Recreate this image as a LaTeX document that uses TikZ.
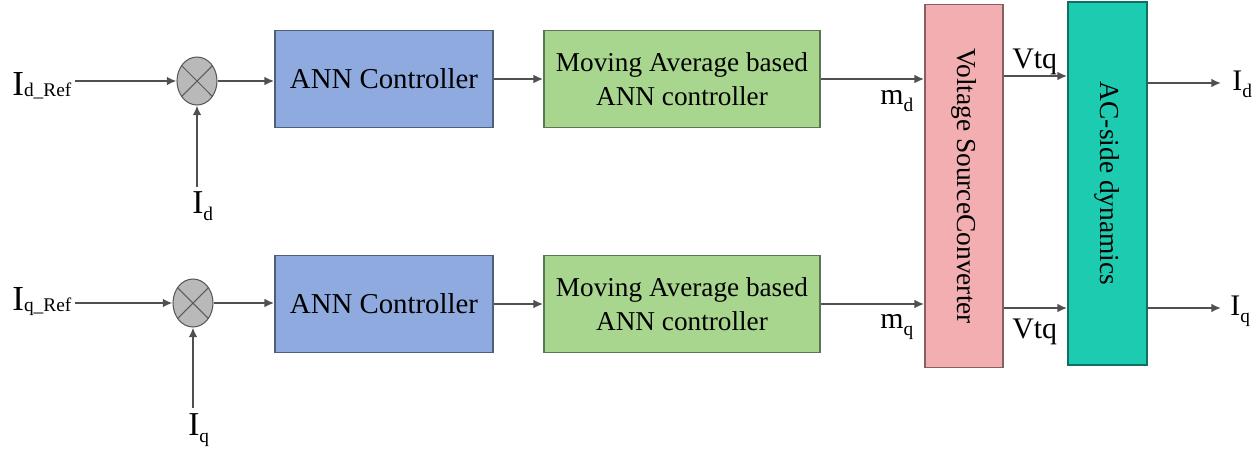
\documentclass[tikz,border=0pt]{standalone}
\usepackage{fontspec}
\setmainfont{Liberation Serif}
\usetikzlibrary{shapes.geometric,arrows.meta}

\definecolor{annblue}{HTML}{8EAADF}
\definecolor{magreen}{HTML}{A8D68E}
\definecolor{vscpink}{HTML}{F2AEB0}
\definecolor{acteal}{HTML}{1DCBB0}
\definecolor{wire}{HTML}{505050}

% signal name with a lowered subscript
\newcommand{\sig}[4]{{\fontsize{#1}{#1}\selectfont #2}\raisebox{-#4}{\fontsize{11}{11}\selectfont #3}}

\begin{document}
\begin{tikzpicture}[x=0.02cm,y=-0.02cm,
        blk/.style={draw=#1!55!black, fill=#1, line width=1pt, inner sep=0pt, align=center},
        summer/.style={ellipse, draw=gray!70!black, fill=gray!55, line width=0.6pt,
            inner sep=0pt, minimum width=0.8cm, minimum height=0.96cm},
        conn/.style={draw=wire, line width=1.2pt, -{Latex[length=5.5pt,width=5pt]}},
        txt/.style={inner sep=0pt, font=\fontsize{17}{17}\selectfont}]
        \useasboundingbox (0,0) rectangle (1258,454);

        % upper (d) loop
        \node[summer] (sd) at (197,81) {};
        \draw[gray!70!black, line width=0.6pt] (sd.45) -- (sd.225) (sd.135) -- (sd.315);
        \node[txt, anchor=base west] (idref) at (12,95) {\sig{20}{I}{d\_Ref}{1pt}};
        \node[txt, anchor=base west] (idmeas) at (192,213) {\sig{19}{I}{d}{4.5pt}};
        \coordinate (idin) at (197,187);
        \coordinate (idstart) at (75,82);

        \node[blk=annblue, minimum width=4.36cm, minimum height=1.94cm,
            font=\fontsize{16.4}{19}\selectfont] (annd) at (384,79) {ANN Controller};
        \node[blk=magreen, minimum width=5.52cm, minimum height=1.94cm,
            font=\fontsize{15.5}{19}\selectfont] (mad) at (682,79) {Moving Average based\\ANN controller};

        % lower (q) loop
        \node[summer] (sq) at (193,303) {};
        \draw[gray!70!black, line width=0.6pt] (sq.45) -- (sq.225) (sq.135) -- (sq.315);
        \node[txt, anchor=base west] (iqref) at (12,310) {\sig{20}{I}{q\_Ref}{1pt}};
        \node[txt, anchor=base west] (iqmeas) at (188,435) {\sig{19}{I}{q}{4.5pt}};
        \coordinate (iqin) at (193,408);
        \coordinate (iqstart) at (75,303);

        \node[blk=annblue, minimum width=4.36cm, minimum height=1.94cm,
            font=\fontsize{16.4}{19}\selectfont] (annq) at (384,304) {ANN Controller};
        \node[blk=magreen, minimum width=5.52cm, minimum height=1.94cm,
            font=\fontsize{15.5}{19}\selectfont] (maq) at (682,304) {Moving Average based\\ANN controller};

        % converter and plant
        \node[blk=vscpink, minimum width=1.56cm, minimum height=7.26cm,
            font=\fontsize{15.6}{19}\selectfont] (vsc) at (964,186) {\rotatebox{-90}{Voltage SourceConverter}};
        \node[blk=acteal, minimum width=1.58cm, minimum height=7.26cm,
            font=\fontsize{15.6}{19}\selectfont] (ac) at (1107.5,183.5) {\rotatebox{-90}{AC-side dynamics}};

        \coordinate (vtd) at (1067,76);
        \coordinate (vtqq) at (1067,308);
        \coordinate (idout) at (1221,83);
        \coordinate (iqout) at (1221,308);

        % connectors
        \draw[conn] (idstart |- sd.west) -- (sd.west);
        \draw[conn] (idin) -- (sd.south);
        \draw[conn] (sd.east) -- (annd.west |- sd);
        \draw[conn] (annd) -- (mad);
        \draw[conn] (mad) -- (mad -| vsc.west);

        \draw[conn] (iqstart |- sq.west) -- (sq.west);
        \draw[conn] (iqin) -- (sq.south);
        \draw[conn] (sq.east) -- (annq.west |- sq);
        \draw[conn] (annq) -- (maq);
        \draw[conn] (maq) -- (maq -| vsc.west);

        \draw[conn] (vtd -| vsc.east) -- (vtd -| ac.west);
        \draw[conn] (vtqq -| vsc.east) -- (vtqq -| ac.west);
        \draw[conn] (idout -| ac.east) -- (idout);
        \draw[conn] (iqout -| ac.east) -- (iqout);

        % signal labels
        \node[txt, anchor=base west] (md) at (880,104) {\sig{17}{m}{d}{4.5pt}};
        \node[txt, anchor=base west] (mq) at (880,328) {\sig{17}{m}{q}{4.5pt}};
        \node[txt, anchor=base west] (vtdl) at (1012,68) {Vtq};
        \node[txt, anchor=base west] (vtql) at (1012,338) {Vtq};
        \node[txt, anchor=base west] (idl) at (1232,90) {\sig{17}{I}{d}{4.5pt}};
        \node[txt, anchor=base west] (iql) at (1230,315) {\sig{17}{I}{q}{4.5pt}};
    \end{tikzpicture}
\end{document}
